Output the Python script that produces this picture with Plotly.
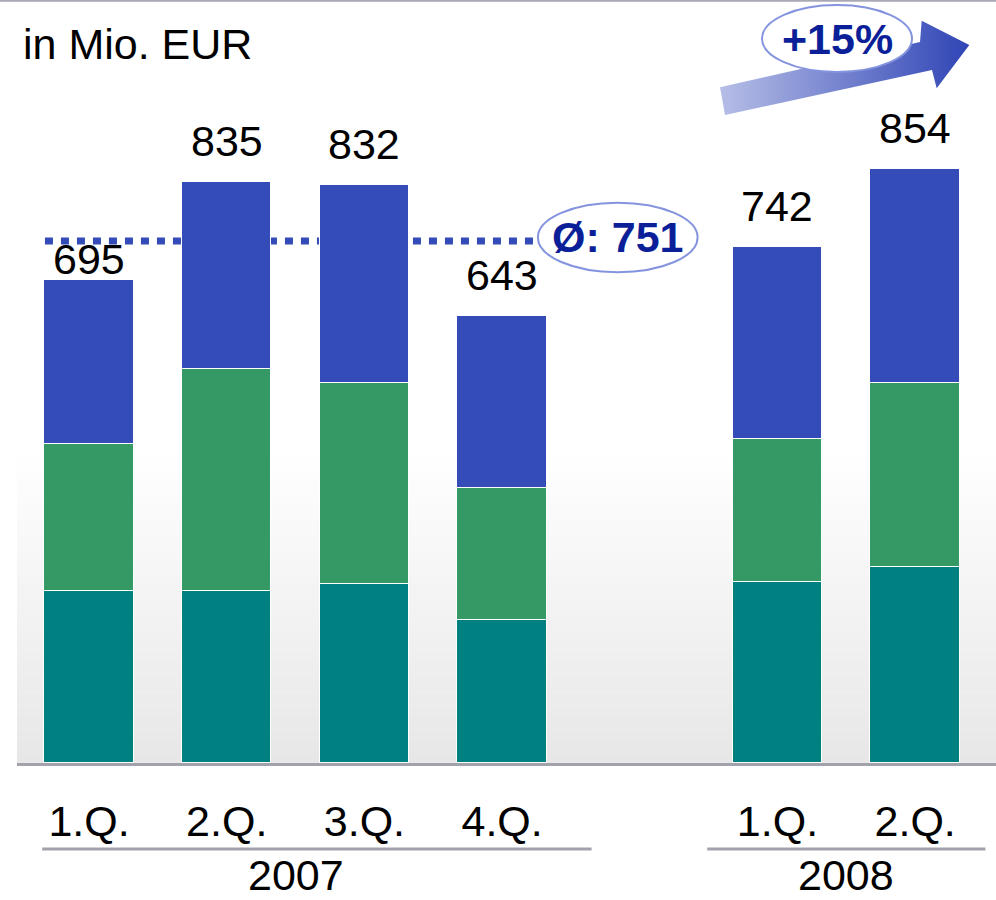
import plotly.graph_objects as go

# ---------------- data ----------------
categories = ["1.Q.", "2.Q.", "3.Q.", "4.Q.", "1.Q.", "2.Q."]
slots = [0, 1, 2, 3, 5, 6]            # gap between 2007 and 2008
years = ["2007", "2008"]
seg_bottom = [248, 248, 257, 206, 260, 282]   # teal
seg_middle = [211, 319, 289, 190, 206, 265]   # green
seg_top = [236, 268, 286, 247, 276, 307]      # blue
totals = [695, 835, 832, 643, 742, 854]
average = 751
growth_label = "+15%"
unit_label = "in Mio. EUR"

# ---------------- style ----------------
FONT = "Liberation Sans, Arial, sans-serif"
FS = 43
C_TEAL = "#008080"
C_GREEN = "#359966"
C_BLUE = "#334CB8"
C_NAVY = "#0B1F99"
C_GRAY = "#A2A2AC"
W, H = 996, 900
ML, MB = 17, 137
X_RANGE = [-0.523, 6.587]
Y_RANGE = [0, 1097.5]
label_shift = [-5, 15, 15, 15, 15, 15]

fig = go.Figure()
for vals, col in [(seg_bottom, C_TEAL), (seg_middle, C_GREEN), (seg_top, C_BLUE)]:
    fig.add_trace(go.Bar(
        x=slots, y=vals, width=0.65, marker=dict(color=col, line=dict(color="white", width=1.5)),
        showlegend=False, hoverinfo="skip"))

# arrow (decoration) drawn on a pixel-like overlay axis
arrow_x = [725, 720, 920, 921.7, 969.3, 936.7, 932, 725]
arrow_y = [115, 87.3, 42, 20.7, 45, 88.3, 70, 115]
fig.add_trace(go.Scatter(
    x=arrow_x, y=arrow_y, xaxis="x2", yaxis="y2", mode="lines", fill="toself",
    line=dict(width=0, color="rgba(0,0,0,0)"),
    fillgradient=dict(type="horizontal", colorscale=[[0, "#B6BEE6"], [1, "#3045B6"]]),
    showlegend=False, hoverinfo="skip"))

shapes = []
# background gradient near bottom of plot
n = 40
top_px, bot_px = 450, 763
for i in range(n):
    p0 = top_px + (bot_px - top_px) * i / n
    p1 = top_px + (bot_px - top_px) * (i + 1) / n
    t = (i + 0.5) / n
    g = round(255 - (255 - 231) * t)
    shapes.append(dict(type="rect", xref="paper", yref="paper", x0=0, x1=1,
                       y0=(bot_px - p1) / bot_px, y1=(bot_px - p0) / bot_px + 0.0005,
                       fillcolor=f"rgb({g},{g},{g + 1})", line=dict(width=0), layer="below"))
# average dotted line
shapes.append(dict(type="line", xref="x", yref="y", x0=-0.32, x1=3.24, y0=average, y1=average,
                   line=dict(color=C_BLUE, width=7, dash="8px,8px"), layer="below"))
# average ellipse
shapes.append(dict(type="circle", xref="x", yref="y", x0=3.26, x1=4.42,
                   y0=average - 45, y1=average + 55, fillcolor="white",
                   line=dict(color="#8494DE", width=2), layer="above"))
# growth ellipse (pixel overlay axis)
shapes.append(dict(type="circle", xref="x2", yref="y2", x0=762, x1=912, y0=5, y1=72,
                   fillcolor="white", line=dict(color="#8494DE", width=2), layer="above"))
# top rule
shapes.append(dict(type="line", xref="paper", yref="paper", x0=-0.02, x1=1, y0=0.999, y1=0.999,
                   line=dict(color="#A8A8B6", width=2)))
# year underlines
for x0, x1 in [(-0.34, 3.65), (4.49, 6.51)]:
    shapes.append(dict(type="line", xref="x", yref="paper", x0=x0, x1=x1,
                       y0=(763 - 849) / 763, y1=(763 - 849) / 763,
                       line=dict(color=C_GRAY, width=3)))

annotations = []
for s, tot, sh in zip(slots, totals, label_shift):
    annotations.append(dict(x=s, y=tot, xref="x", yref="y", text=str(tot), showarrow=False,
                            yanchor="bottom", yshift=sh, font=dict(size=FS, color="black", family=FONT)))
annotations.append(dict(x=3.84, y=average, xref="x", yref="y", text="<b>\u00d8: %d</b>" % average,
                        showarrow=False, yshift=4, font=dict(size=FS, color=C_NAVY, family=FONT)))
annotations.append(dict(x=837, y=39, xref="x2", yref="y2", text="<b>%s</b>" % growth_label,
                        showarrow=False, font=dict(size=FS, color=C_NAVY, family=FONT)))
annotations.append(dict(x=(21 - ML) / (W - ML), y=(763 - 44) / 763, xref="paper", yref="paper",
                        text=unit_label, showarrow=False, xanchor="left", yanchor="middle",
                        font=dict(size=FS, color="black", family=FONT)))
year_x = [sum(slots[:4]) / 4, sum(slots[4:]) / 2]
for yx, yl in zip(year_x, years):
    annotations.append(dict(x=yx, y=(763 - 875) / 763, xref="x", yref="paper", text=yl,
                            showarrow=False, yanchor="middle",
                            font=dict(size=FS, color="black", family=FONT)))

fig.update_layout(
    width=W, height=H, barmode="stack", bargap=0,
    margin=dict(l=ML, r=0, t=0, b=MB, pad=0),
    paper_bgcolor="white", plot_bgcolor="white",
    font=dict(family=FONT, size=FS, color="black"),
    xaxis=dict(range=X_RANGE, tickvals=slots, ticktext=categories, showgrid=False, zeroline=False,
               showline=True, linecolor=C_GRAY, linewidth=3, ticks="", ticklabelstandoff=18,
               tickfont=dict(size=FS, color="black", family=FONT), fixedrange=True),
    yaxis=dict(range=Y_RANGE, visible=False, showgrid=False, zeroline=False, fixedrange=True),
    xaxis2=dict(overlaying="x", anchor="y2", range=[ML, W], visible=False, fixedrange=True),
    yaxis2=dict(overlaying="y", anchor="x2", range=[763, 0], visible=False, fixedrange=True),
    shapes=shapes, annotations=annotations, showlegend=False,
)
fig.write_html("out.html", config={"displayModeBar": False},
               post_script="document.body.style.margin='0';document.body.style.padding='0';")
